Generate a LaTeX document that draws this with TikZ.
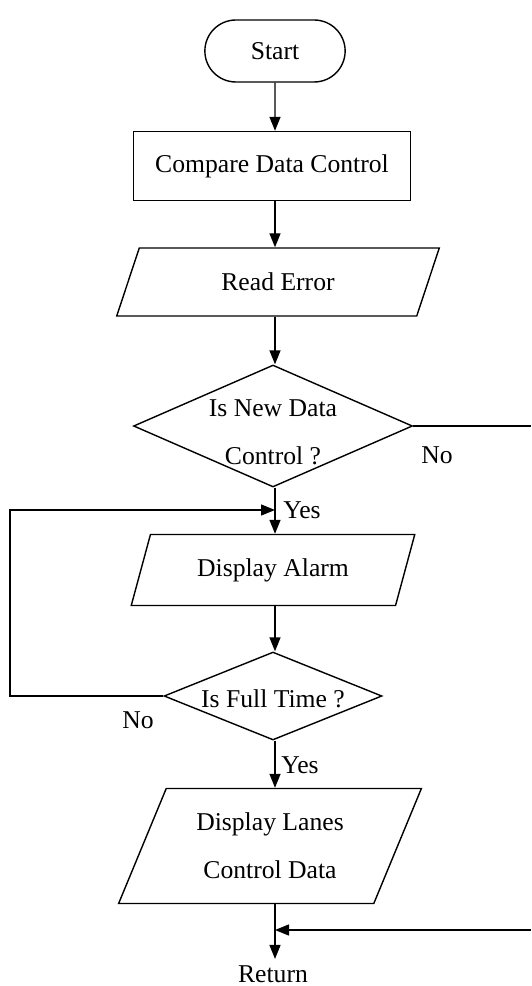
\documentclass[tikz,border=0pt]{standalone}
\usepackage{fontspec}
\setmainfont{Liberation Serif}
\usetikzlibrary{arrows.meta,shapes.geometric,shapes.misc}

\begin{document}
\begin{tikzpicture}[x=0.02cm,y=-0.02cm,line width=0.8pt,
  font=\fontsize{14.6}{27.5}\selectfont,
  >={Triangle[length=2.8mm,width=2.2mm]},
  term/.style={draw,rounded rectangle,minimum width=3.04cm,minimum height=1.24cm},
  proc/.style={draw,rectangle,minimum width=5.54cm,minimum height=1.38cm},
  io/.style={draw,trapezium,trapezium left angle=63,trapezium right angle=117,
    trapezium stretches=true,align=center,inner sep=0pt},
  dec/.style={draw,diamond,inner sep=0pt}]
  \useasboundingbox (0,0) rectangle (531,986);
  % main column
  \node[term] (start) at (275,51) {Start};
  \node[proc] (cmp) at (272,166) {Compare Data Control};
  \node[io,minimum width=6.48cm,minimum height=1.36cm] (read) at (278,282) {Read Error};
  \node[dec,minimum width=5.58cm,minimum height=2.44cm,
    label={[align=center,yshift=-0.12cm]center:Is New Data\\Control ?}] (isnew) at (273,426) {};
  \node[io,minimum width=5.68cm,minimum height=1.42cm] (alarm) at (273,570) {Display Alarm};
  \node[dec,minimum width=4.36cm,minimum height=1.76cm,
    label={[yshift=-0.06cm]center:Is Full Time ?}] (isfull) at (273,696) {};
  \node[io,minimum width=6.06cm,minimum height=2.3cm] (lanes) at (270,846) {Display Lanes\\Control Data};
  \node (ret) at (273,974) {Return};
  % branch labels
  \node (no1) at (437,455) {No};
  \node (yes1) at (302,510) {Yes};
  \node (no2) at (138,720) {No};
  \node (yes2) at (300,765) {Yes};
  % loose ends
  \coordinate (merge) at (275,510);
  \coordinate (loopL) at (10,696);
  \coordinate (exitR) at (531,426);
  \coordinate (backR) at (531,930);
  \coordinate (join) at (275,930);

  \draw[->] (start) -- (start |- cmp.north);
  \draw[->] (start |- cmp.south) -- (start |- read.north);
  \draw[->] (start |- read.south) -- (start |- isnew.north);
  \draw[->] (start |- isnew.south) -- (start |- alarm.north);
  \draw[->] (start |- alarm.south) -- (start |- isfull.north);
  \draw[->] (start |- isfull.south) -- (start |- lanes.north);
  \draw[->] (start |- lanes.south) -- (start |- ret.north);
  \draw (isnew.east) -- (exitR);
  \draw[->] (isfull.west) -- (loopL) |- (merge);
  \draw[->] (backR) -- (join);
\end{tikzpicture}
\end{document}
